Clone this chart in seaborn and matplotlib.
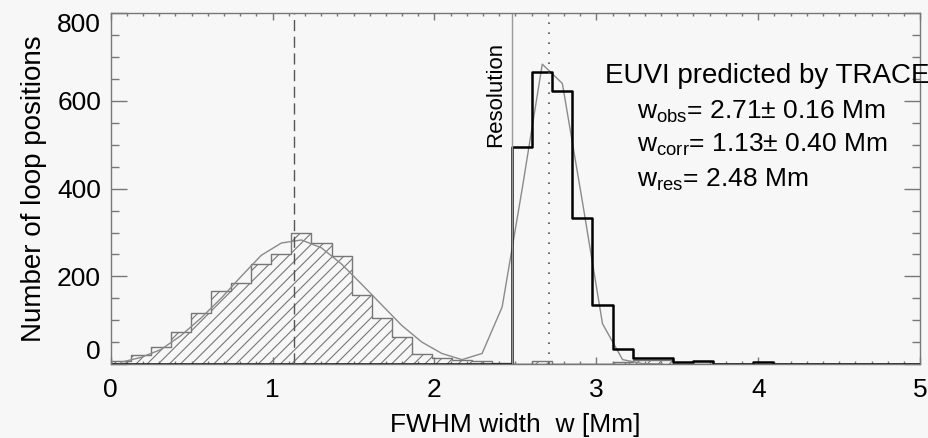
import numpy as np
import pandas as pd
import matplotlib
matplotlib.use("Agg")
import matplotlib.pyplot as plt
from matplotlib.ticker import MultipleLocator
import seaborn as sns

# histogram bins: width 0.124 Mm (= w_res / 20), starting at 0
bin_width = 0.124
n_bins = 41

# corrected widths w_corr (hatched histogram), counts per bin from 0
corr_counts = [8, 20, 39, 72, 117, 167, 184, 229, 251, 299,
               277, 246, 157, 104, 61, 24, 13, 9, 7, 2,
               0, 6, 0, 0, 0, 4, 10, 10]

# observed widths w_obs (black histogram), counts per bin from 2.48 Mm
obs_first_bin = 20
obs_counts = [495, 665, 623, 334, 134, 34, 13, 13, 5, 8, 1, 1, 4]

# fitted curve, sampled at bin centres from 0.062 Mm
fit_counts = [4, 15, 33, 65, 105, 150, 200, 248, 276, 283,
              265, 228, 182, 135, 88, 50, 24, 10, 24, 130,
              400, 684, 640, 370, 92, 10, 1, 0]

w_obs = 2.71
w_corr = 1.13
w_res = 2.48

centers = (np.arange(n_bins) + 0.5) * bin_width
bin_range = (0, n_bins * bin_width)

corr_full = np.zeros(n_bins)
corr_full[:len(corr_counts)] = corr_counts
obs_full = np.zeros(n_bins)
obs_full[obs_first_bin:obs_first_bin + len(obs_counts)] = obs_counts

df = pd.DataFrame({"w": centers, "corr": corr_full, "obs": obs_full})
fit = pd.DataFrame({"w": centers[:len(fit_counts)], "n": fit_counts})

sns.set_style("ticks")
plt.rcParams["font.family"] = ["Liberation Sans", "DejaVu Sans"]
plt.rcParams["mathtext.fontset"] = "custom"
plt.rcParams["mathtext.rm"] = "Liberation Sans"
plt.rcParams["hatch.linewidth"] = 0.8
plt.rcParams["text.color"] = "black"
plt.rcParams["axes.labelcolor"] = "black"

bg = "#f7f7f7"
fig = plt.figure(figsize=(9.29, 4.38), dpi=100, facecolor=bg)
ax = fig.add_axes([0.1192, 0.1689, 0.8712, 0.8007], facecolor=bg)

# hatched histogram of corrected widths
sns.histplot(data=df, x="w", weights="corr", binwidth=bin_width, binrange=bin_range,
             element="step", fill=True, color="#777777", linewidth=1, ax=ax)
poly = ax.collections[-1]
poly.set_facecolor("none")
poly.set_edgecolor("#777777")
poly.set_hatch("///")
poly.set_alpha(1)

# fitted curve
sns.lineplot(data=fit, x="w", y="n", color="#8a8a8a", linewidth=1, ax=ax)

# observed widths
sns.histplot(data=df, x="w", weights="obs", binwidth=bin_width, binrange=bin_range,
             element="step", fill=False, color="black", linewidth=1.8, ax=ax)

ax.axvline(w_corr, color="#555555", linewidth=1, linestyle=(0, (8, 4)))
ax.axvline(w_obs, color="#555555", linewidth=1.2, linestyle=(0, (1, 5)))
ax.axvline(w_res, color="#9a9a9a", linewidth=1)

ax.text(2.445, 735, "Resolution", rotation=90, ha="right", va="top", fontsize=16)

ax.text(3.053, 640, "EUVI predicted by TRACE", fontsize=20, va="baseline")
ax.text(3.249, 560, r"w$_\mathregular{obs}$= 2.71± 0.16 Mm", fontsize=19, va="baseline")
ax.text(3.249, 484, r"w$_\mathregular{corr}$= 1.13± 0.40 Mm", fontsize=19, va="baseline")
ax.text(3.249, 404, r"w$_\mathregular{res}$= 2.48 Mm", fontsize=19, va="baseline")

ax.set_xlim(0, 5)
ax.set_ylim(0, 800)
ax.set_xticks([0, 1, 2, 3, 4, 5])
ax.set_yticks([0, 200, 400, 600, 800])
ax.xaxis.set_minor_locator(MultipleLocator(0.1))
ax.yaxis.set_minor_locator(MultipleLocator(50))
ax.set_xlabel("FWHM width  w [Mm]", fontsize=19, labelpad=8)
ax.set_ylabel("Number of loop positions", fontsize=20, labelpad=7)

for s in ax.spines.values():
    s.set_color("#777777")
    s.set_linewidth(1)
ax.tick_params(which="both", direction="in", top=True, right=True,
               color="#777777", width=1, labelsize=19, labelcolor="black")
ax.tick_params(axis="x", which="major", length=5, pad=10)
ax.tick_params(axis="x", which="minor", length=2.5)
ax.tick_params(axis="y", which="major", length=11.5, pad=7)
ax.tick_params(axis="y", which="minor", length=5.8)

ylabels = ax.get_yticklabels()
ylabels[0].set_va("bottom")
ylabels[-1].set_va("top")

fig.savefig("out.png", dpi=100, facecolor=bg)
